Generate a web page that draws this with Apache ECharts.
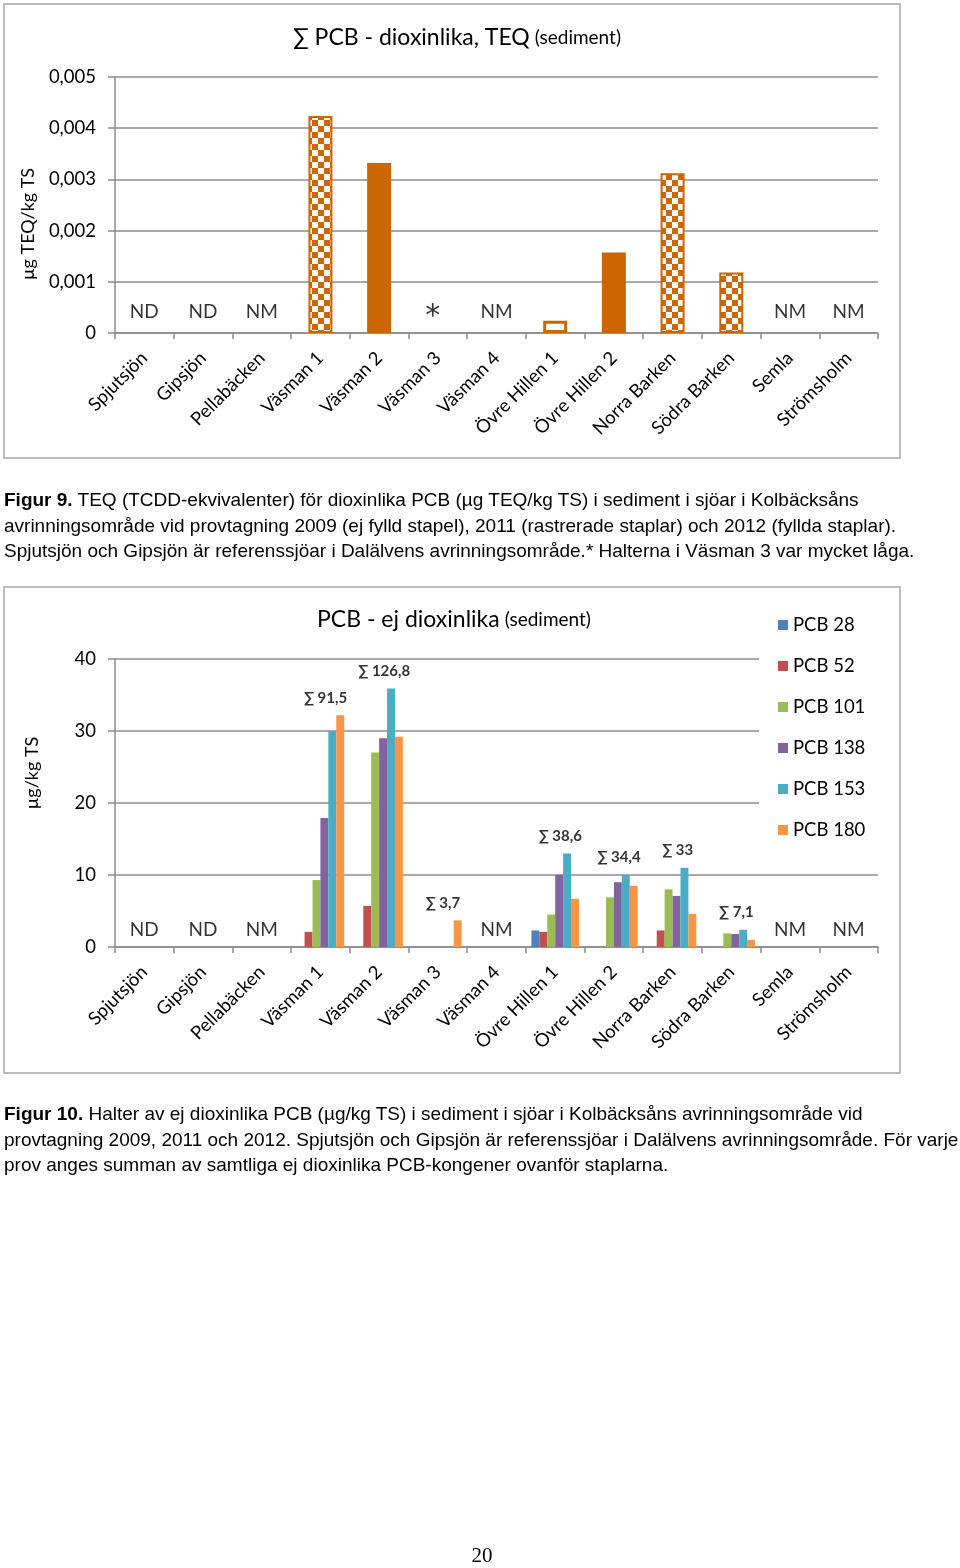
<!DOCTYPE html>
<html>
<head>
<meta charset="utf-8">
<script src="https://cdn.jsdelivr.net/npm/echarts@6/dist/echarts.min.js"></script>
<style>
html,body{margin:0;padding:0;background:#fff;}
#chart{position:absolute;left:0;top:0;width:960px;height:1568px;}
.cap{position:absolute;left:4px;font-family:"Liberation Sans",Arial,sans-serif;font-size:19px;line-height:25.5px;color:#000;white-space:nowrap;z-index:5;}
.pg{position:absolute;left:0;width:964px;text-align:center;top:1543px;font-family:"Liberation Serif",serif;font-size:21px;z-index:5;}
</style>
</head>
<body>
<div id="chart"></div>
<div class="cap" style="top:487px"><b>Figur 9.</b> TEQ (TCDD-ekvivalenter) för dioxinlika PCB (µg TEQ/kg TS) i sediment i sjöar i Kolbäcksåns<br>avrinningsområde vid provtagning 2009 (ej fylld stapel), 2011 (rastrerade staplar) och 2012 (fyllda staplar).<br>Spjutsjön och Gipsjön är referenssjöar i Dalälvens avrinningsområde.* Halterna i Väsman 3 var mycket låga.</div>
<div class="cap" style="top:1101px"><b>Figur 10.</b> Halter av ej dioxinlika PCB (µg/kg TS) i sediment i sjöar i Kolbäcksåns avrinningsområde vid<br>provtagning 2009, 2011 och 2012. Spjutsjön och Gipsjön är referenssjöar i Dalälvens avrinningsområde. För varje<br>prov anges summan av samtliga ej dioxinlika PCB-kongener ovanför staplarna.</div>
<div class="pg">20</div>
<script>
// ---- data ----
const categories = ['Spjutsjön','Gipsjön','Pellabäcken','Väsman 1','Väsman 2','Väsman 3','Väsman 4','Övre Hillen 1','Övre Hillen 2','Norra Barken','Södra Barken','Semla','Strömsholm'];

const teq2009 = [null,null,null,null,null,null,null,0.00024,null,null,null,null,null];
const teq2011 = [null,null,null,0.00424,null,null,null,null,null,0.00312,0.00118,null,null];
const teq2012 = [null,null,null,null,0.00332,null,null,null,0.00157,null,null,null,null];
const teqNotes = ['ND','ND','NM','','','*','NM','','','','','NM','NM'];
const teqTicks = [0,0.001,0.002,0.003,0.004,0.005];

const pcbNames = ['PCB 28','PCB 52','PCB 101','PCB 138','PCB 153','PCB 180'];
const pcb28  = [null,null,null,null,null,null,null,2.3,null,null,null,null,null];
const pcb52  = [null,null,null,2.1,5.7,null,null,2.1,null,2.3,null,null,null];
const pcb101 = [null,null,null,9.3,27.0,null,null,4.5,6.9,8.0,1.9,null,null];
const pcb138 = [null,null,null,17.9,29.0,null,null,10.0,9.0,7.1,1.8,null,null];
const pcb153 = [null,null,null,30.0,35.9,null,null,13.0,10.0,11.0,2.4,null,null];
const pcb180 = [null,null,null,32.2,29.2,3.7,null,6.7,8.5,4.6,1.0,null,null];
const pcbSums = [null,null,null,91.5,126.8,3.7,null,38.6,34.4,33,7.1,null,null];
const pcbNotes = ['ND','ND','NM','','','','NM','','','','','NM','NM'];
const pcbTicks = [0,10,20,30,40];

// ---- styles ----
const ORANGE = '#CC6600';
const PCB_COLORS = ['#4F81BD','#C0504D','#9BBB59','#8064A2','#4BACC6','#F79646'];
const GRID_C = '#8c8c8c';
const FONT = 'Lato, "Open Sans", sans-serif';

const pc = document.createElement('canvas');
pc.width = 12; pc.height = 12;
const pctx = pc.getContext('2d');
pctx.fillStyle = '#fff'; pctx.fillRect(0,0,12,12);
pctx.fillStyle = ORANGE; pctx.fillRect(0,0,6,6); pctx.fillRect(6,6,6,6);

const commaFmt = (v, d) => v === 0 ? '0' : v.toFixed(d).replace('.', ',');

function xAxis(gi){
  return {
    type:'category', gridIndex:gi, data:categories, boundaryGap:true,
    axisLine:{lineStyle:{color:GRID_C,width:1.5}},
    axisTick:{show:true,length:6,lineStyle:{color:GRID_C,width:1.5}},
    axisLabel:{rotate:45,fontSize:18.5,fontFamily:FONT,color:'#000',margin:22,interval:0}
  };
}
function yAxis(gi, ticks, dec){
  return {
    type:'value', gridIndex:gi, min:ticks[0], max:ticks[ticks.length-1],
    interval:ticks[1]-ticks[0],
    axisLine:{show:true,lineStyle:{color:GRID_C,width:1.5}},
    axisTick:{show:true,length:7,lineStyle:{color:GRID_C,width:1.5}},
    splitLine:{show:true,lineStyle:{color:GRID_C,width:1.5}},
    axisLabel:{fontSize:18.5,fontFamily:FONT,color:'#000',margin:19,
      formatter:v=>commaFmt(v,dec)}
  };
}

const pcbData = [pcb28,pcb52,pcb101,pcb138,pcb153,pcb180];
const groupMax = categories.map((c,i)=>{
  let m = null;
  pcbData.forEach(a=>{ if(a[i]!=null && (m==null || a[i]>m)) m=a[i]; });
  return m;
});

const series = [
  {name:'2009', type:'bar', xAxisIndex:0, yAxisIndex:0, data:teq2009, barWidth:24, barGap:'-100%',
   itemStyle:{color:'#fff',borderColor:ORANGE,borderWidth:3}},
  {name:'2011', type:'bar', xAxisIndex:0, yAxisIndex:0, data:teq2011, barWidth:24, barGap:'-100%',
   itemStyle:{color:{image:pc,repeat:'repeat'},borderColor:ORANGE,borderWidth:2}},
  {name:'2012', type:'bar', xAxisIndex:0, yAxisIndex:0, data:teq2012, barWidth:24, barGap:'-100%',
   itemStyle:{color:ORANGE}},
  {name:'notes1', type:'scatter', xAxisIndex:0, yAxisIndex:0, symbolSize:0, silent:true,
   data:teqNotes.map(t=> t==='*' ? {value:0, label:{offset:[0,11]}} : (t?0:null)),
   label:{show:true,position:'top',distance:12,fontSize:19,fontFamily:FONT,color:'#000',
     formatter:p=>teqNotes[p.dataIndex]==='*'?'{s|*}':teqNotes[p.dataIndex],
     rich:{s:{fontSize:30,fontFamily:'"DejaVu Sans"',color:'#000',padding:[0,10,0,0]}}}}
];
pcbData.forEach((arr,k)=>{
  series.push({name:pcbNames[k], type:'bar', xAxisIndex:1, yAxisIndex:1, data:arr,
    barGap:'0%', barCategoryGap:'19%', itemStyle:{color:PCB_COLORS[k]}});
});
series.push({name:'sums', type:'scatter', xAxisIndex:1, yAxisIndex:1, symbolSize:0, silent:true, z:5,
  data:groupMax.map((m,i)=>pcbSums[i]!=null?m:null),
  label:{show:true,position:'top',distance:9,offset:[5,0],fontSize:15,fontWeight:'bold',fontFamily:FONT,
    color:'#000',backgroundColor:'#fff',padding:[1,2],
    formatter:p=>'∑ '+commaFmt(pcbSums[p.dataIndex],1).replace(/,0$/,'')}});
series.push({name:'notes2', type:'scatter', xAxisIndex:1, yAxisIndex:1, symbolSize:0, silent:true,
  data:pcbNotes.map(t=>t?0:null),
  label:{show:true,position:'top',distance:8,fontSize:19,fontFamily:FONT,color:'#000',
    formatter:p=>pcbNotes[p.dataIndex]}});

const titleRich = {a:{fontSize:23,fontFamily:FONT,fontWeight:'normal',color:'#000'},b:{fontSize:19,fontFamily:FONT,fontWeight:'normal',color:'#000'}};
const option = {
  animation:false,
  backgroundColor:'#fff',
  title:[
    {text:'{a|∑ PCB - dioxinlika, TEQ} {b|(sediment)}', left:288, top:21, textStyle:{fontWeight:'normal',rich:titleRich}},
    {text:'{a|PCB - ej dioxinlika} {b|(sediment)}', left:312, top:603, textStyle:{fontWeight:'normal',rich:titleRich}}
  ],
  legend:{data:pcbNames, orient:'vertical', left:759, top:605, padding:[10,20,10,19],
    backgroundColor:'#fff', icon:'rect', itemWidth:10, itemHeight:10, itemGap:21,
    textStyle:{fontSize:18.5,fontFamily:FONT,color:'#000',lineHeight:20}},
  grid:[
    {left:115, top:77, width:763, height:256},
    {left:115, top:659, width:763, height:288}
  ],
  xAxis:[xAxis(0), xAxis(1)],
  yAxis:[yAxis(0, teqTicks, 3), yAxis(1, pcbTicks, 0)],
  graphic:[
    {type:'rect', shape:{x:4,y:4,width:896,height:454}, style:{fill:'none',stroke:'#bdbdbd',lineWidth:2}, silent:true},
    {type:'rect', shape:{x:4,y:587,width:896,height:486}, style:{fill:'none',stroke:'#bdbdbd',lineWidth:2}, silent:true},
    {type:'text', x:28, y:224, rotation:Math.PI/2, style:{text:'µg TEQ/kg TS', fontSize:18, fontFamily:FONT, fill:'#000', align:'center', verticalAlign:'middle'}},
    {type:'text', x:32, y:773, rotation:Math.PI/2, style:{text:'µg/kg TS', fontSize:18, fontFamily:FONT, fill:'#000', align:'center', verticalAlign:'middle'}}
  ],
  series:series
};
const chart = echarts.init(document.getElementById('chart'), null, {renderer:'canvas'});
chart.setOption(option);
</script>
</body>
</html>
